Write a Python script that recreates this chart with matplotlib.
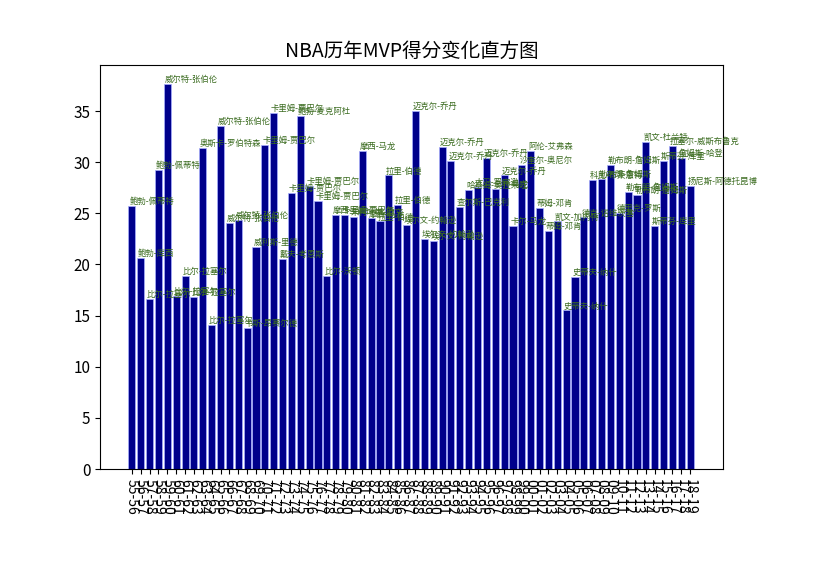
import matplotlib
matplotlib.use("Agg")
import matplotlib.pyplot as plt
from matplotlib import font_manager as fm

cjk = None
for pref in ['Noto Sans CJK SC', 'Noto Sans CJK JP', 'Noto Sans CJK TC', 'Noto Sans CJK KR']:
    if any(f.name == pref for f in fm.fontManager.ttflist):
        cjk = pref
        break
if cjk is None:
    for f in fm.fontManager.ttflist:
        if 'CJK' in f.name and 'Sans' in f.name:
            cjk = f.name
            break
plt.rcParams['font.family'] = [cjk or 'Noto Sans CJK SC', 'DejaVu Sans']
plt.rcParams['axes.unicode_minus'] = False

seasons = [f"{y%100:02d}-{(y+1)%100:02d}" for y in range(1955, 2019)]
names = ["鲍勃-佩蒂特", "鲍勃-库西", "比尔-拉塞尔", "鲍勃-佩蒂特", "威尔特-张伯伦",
         "比尔-拉塞尔", "比尔-拉塞尔", "比尔-拉塞尔", "奥斯卡-罗伯特森", "比尔-拉塞尔",
         "威尔特-张伯伦", "威尔特-张伯伦", "威尔特-张伯伦", "韦斯-昂赛尔德", "威利斯-里德",
         "卡里姆-贾巴尔", "卡里姆-贾巴尔", "戴夫-考恩斯", "卡里姆-贾巴尔", "鲍勃-麦克阿杜",
         "卡里姆-贾巴尔", "卡里姆-贾巴尔", "比尔-沃顿", "摩西-马龙", "卡里姆-贾巴尔",
         "朱利叶斯-欧文", "摩西-马龙", "摩西-马龙", "拉里-伯德", "拉里-伯德",
         "拉里-伯德", "埃尔文-约翰逊", "迈克尔-乔丹", "埃尔文-约翰逊", "埃尔文-约翰逊",
         "迈克尔-乔丹", "迈克尔-乔丹", "查尔斯-巴克利", "哈基姆-奥拉朱旺", "大卫-罗宾逊",
         "迈克尔-乔丹", "卡尔-马龙", "迈克尔-乔丹", "卡尔-马龙", "沙奎尔-奥尼尔",
         "阿伦-艾弗森", "蒂姆-邓肯", "蒂姆-邓肯", "凯文-加内特", "史蒂夫-纳什",
         "史蒂夫-纳什", "德克-诺维茨基", "科比-布莱恩特", "勒布朗-詹姆斯", "勒布朗-詹姆斯",
         "德里克-罗斯", "勒布朗-詹姆斯", "勒布朗-詹姆斯", "凯文-杜兰特", "斯蒂芬-库里",
         "斯蒂芬-库里", "拉塞尔-威斯布鲁克", "詹姆斯-哈登", "扬尼斯-阿德托昆博"]
points = [25.7, 20.6, 16.6, 29.2, 37.6, 16.9, 18.9, 16.8, 31.4, 14.1,
          33.5, 24.1, 24.3, 13.8, 21.7, 31.7, 34.8, 20.5, 27.0, 34.5,
          27.7, 26.2, 18.9, 24.8, 24.8, 24.6, 31.1, 24.5, 24.2, 28.7,
          25.8, 23.9, 35.0, 22.5, 22.3, 31.5, 30.1, 25.6, 27.3, 27.6,
          30.4, 27.4, 28.7, 23.8, 29.7, 31.1, 25.5, 23.3, 24.2, 15.5,
          18.8, 24.6, 28.3, 28.4, 29.7, 25.0, 27.1, 26.8, 32.0, 23.8,
          30.1, 31.6, 30.4, 27.7]

fig = plt.figure(figsize=(8.38, 5.62), dpi=100)
ax = fig.add_axes([100/838, 1-469/562, 623/838, 404/562])
x = list(range(len(seasons)))
ax.bar(x, points, width=0.8, color='#00008B', edgecolor='#aab0ff', linewidth=0.5)
for i, (n, v) in enumerate(zip(names, points)):
    ax.text(i - 0.3, v, n, fontsize=6, color='#3a6b1f', ha='left', va='bottom')
ax.set_xticks(x)
ax.set_xticklabels(seasons, rotation=270, fontsize=10)
ax.set_xlim(-3.6, len(seasons) + 2.7)
ax.set_ylim(0, 39.5)
ax.tick_params(axis='y', labelsize=11)
ax.set_title("NBA历年MVP得分变化直方图", fontsize=14)
fig.savefig("out.png", dpi=100)
